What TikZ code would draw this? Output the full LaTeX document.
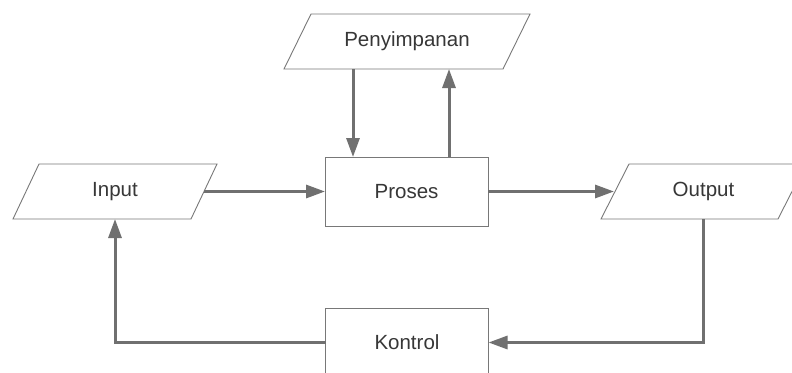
\documentclass[tikz,border=0pt]{standalone}
\usepackage{fontspec}
\setmainfont{Liberation Sans}
\usetikzlibrary{arrows.meta}
\definecolor{linegray}{RGB}{112,112,112}
\definecolor{bordergray}{RGB}{120,120,120}
\definecolor{textgray}{RGB}{55,55,55}
\begin{document}
\begin{tikzpicture}[x=1pt,y=-1pt,
  every node/.style={font=\fontsize{20.5}{24}\selectfont, text=textgray, inner sep=0pt, outer sep=0pt},
  procbox/.style={draw=bordergray, line width=0.9pt, minimum width=163pt, minimum height=69pt, fill=white},
  iobox/.style={minimum width=#1, minimum height=55pt},
  flow/.style={draw=linegray, line width=3pt, -{Triangle[length=19pt,width=13pt]}},
  plain/.style={draw=linegray, line width=3pt},
  pgram/.style={draw=bordergray, line width=0.9pt, line join=miter}
]
\useasboundingbox (0,0) rectangle (792,372);
\fill[white] (0,0) rectangle (792,372);
% nodes
\node[iobox=246pt] (peny) at (407,41.5) {};
\node[iobox=204pt] (input) at (115,191.5) {};
\node[iobox=205pt] (output) at (703.5,191.5) {};
\node[procbox] (proses) at (406.5,191.5) {Proses};
\node[procbox] (kontrol) at (407,342.5) {Kontrol};
% parallelograms
\draw[pgram] (peny.south west) -- ([xshift=-27pt]peny.south east) -- (peny.north east) -- ([xshift=27pt]peny.north west) -- cycle;
\draw[pgram] (input.south west) -- ([xshift=-26pt]input.south east) -- (input.north east) -- ([xshift=26pt]input.north west) -- cycle;
\draw[pgram] (output.south west) -- ([xshift=-28pt]output.south east) -- (output.north east) -- ([xshift=28pt]output.north west) -- cycle;
\node at ([xshift=0pt]peny.center) {Penyimpanan};
\node at (input.center) {Input};
\node at (output.center) {Output};
% connectors
\draw[flow] ([xshift=-54pt]peny.south) -- ([xshift=-54pt]peny.south |- proses.north);
\draw[flow] ([xshift=42.5pt]proses.north) -- ([xshift=42.5pt]proses.north |- peny.south);
\draw[flow] ([xshift=-13pt]input.east) -- (proses.west);
\draw[flow] (proses.east) -- ([xshift=13pt]output.west);
\draw[flow] (output.south) |- (kontrol.east);
\draw[flow] (kontrol.west) -| (input.south);
\end{tikzpicture}
\end{document}
